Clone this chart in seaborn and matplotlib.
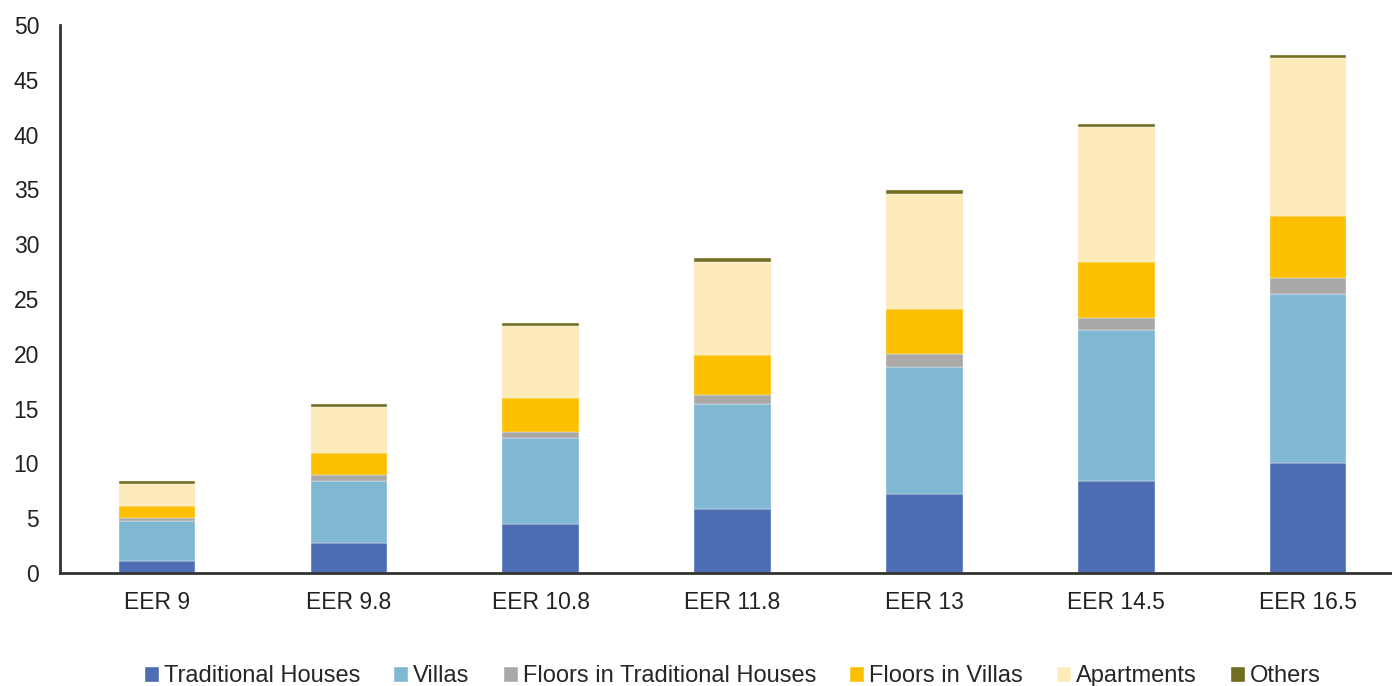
import matplotlib
matplotlib.use("Agg")
import matplotlib.pyplot as plt
import seaborn as sns
import numpy as np
import pandas as pd
from matplotlib.patches import Patch

categories = ["EER 9", "EER 9.8", "EER 10.8", "EER 11.8", "EER 13", "EER 14.5", "EER 16.5"]
traditional_houses = [1.05, 2.75, 4.45, 5.85, 7.25, 8.4, 10.0]
villas = [3.7, 5.65, 7.9, 9.6, 11.55, 13.8, 15.5]
floors_traditional = [0.3, 0.55, 0.55, 0.8, 1.15, 1.1, 1.4]
floors_villas = [1.1, 2.0, 3.05, 3.65, 4.15, 5.1, 5.7]
apartments = [1.95, 4.2, 6.55, 8.5, 10.5, 12.3, 14.4]
others = [0.3, 0.3, 0.3, 0.3, 0.3, 0.3, 0.3]

series_names = ["Traditional Houses", "Villas", "Floors in Traditional Houses",
                "Floors in Villas", "Apartments", "Others"]
series_values = [traditional_houses, villas, floors_traditional,
                 floors_villas, apartments, others]
colors = ["#4D6DB3", "#80B7D3", "#ABA8A8", "#FCC000", "#FEEBBA", "#736D20"]

sns.set_style("white")
plt.rcParams['font.family'] = ['Liberation Sans', 'DejaVu Sans']

fig = plt.figure(figsize=(13.92, 6.86), dpi=100)
ax = fig.add_axes([60 / 1392, 1 - 573 / 686, 1 - 60 / 1392, (573 - 25) / 686])

# stack the series one on top of the other
bottom = np.zeros(len(categories))
for name, vals, col in zip(series_names, series_values, colors):
    df = pd.DataFrame({"cat": categories, "val": vals})
    sns.barplot(data=df, x="cat", y="val", order=categories, color=col,
                width=0.4, bottom=bottom.copy(), edgecolor="#F4F4F4",
                linewidth=0.3, saturation=1, ax=ax)
    bottom += np.array(vals)

ax.set_ylim(0, 50)
ax.set_yticks(np.arange(0, 51, 5))
ax.set_xlim(-0.506, 6.438)
ax.set_xlabel("")
ax.set_ylabel("")
for s in ["top", "right"]:
    ax.spines[s].set_visible(False)
for s in ["left", "bottom"]:
    ax.spines[s].set_color("#333333")
    ax.spines[s].set_linewidth(2)
ax.tick_params(axis="both", length=0, labelsize=16.5, colors="#222222")
ax.tick_params(axis="x", pad=13)
ax.tick_params(axis="y", pad=15)

handles = [Patch(facecolor=c, label=n) for n, c in zip(series_names, colors)]
fig.legend(handles=handles, loc="center", bbox_to_anchor=(0.526, 0.014),
           ncol=6, frameon=False, fontsize=17, handlelength=0.65, handleheight=0.65,
           handletextpad=0.2, columnspacing=1.4)

fig.savefig("out.png", dpi=100)
